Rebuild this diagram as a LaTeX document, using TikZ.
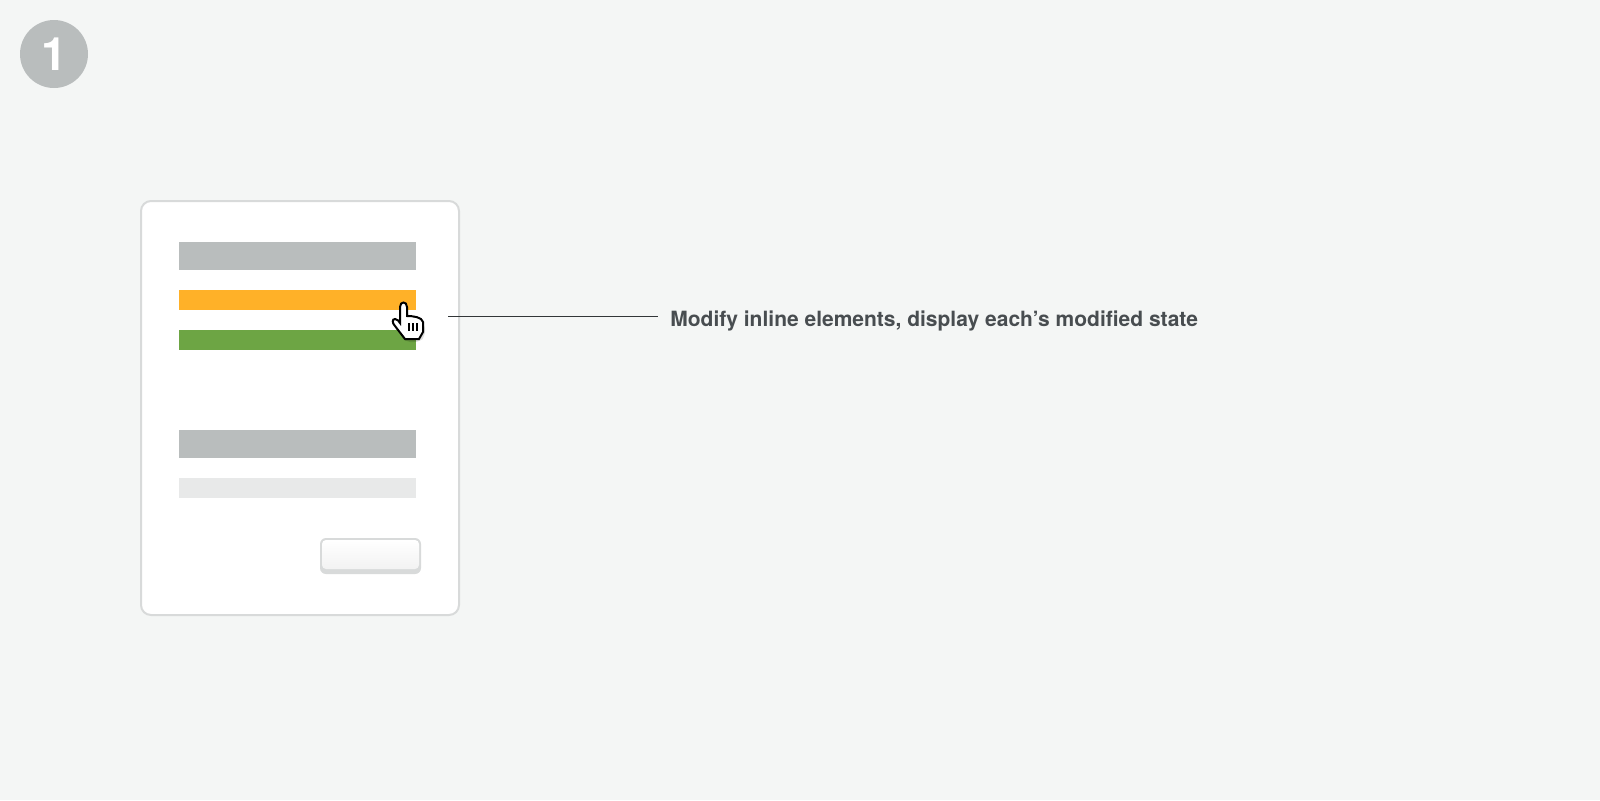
\documentclass[tikz,border=0pt]{standalone}
\usepackage{fontspec}
\setmainfont{TeX Gyre Heros}
\definecolor{pagegray}{HTML}{F4F6F5}
\definecolor{cardline}{HTML}{D8DADA}
\definecolor{bargray}{HTML}{B9BDBD}
\definecolor{barlight}{HTML}{E8E9E9}
\definecolor{barorange}{HTML}{FFB128}
\definecolor{bargreen}{HTML}{6DA544}
\definecolor{textgray}{HTML}{484D50}
\tikzset{
  stepmark/.style={circle,fill=bargray,minimum size=34pt,inner sep=0pt,text=white,font=\bfseries\fontsize{23}{23}\selectfont},
  calltext/.style={anchor=west,inner xsep=6pt,inner ysep=0pt,text height=12pt,text depth=2.5pt,text=textgray,font=\bfseries\fontsize{10.5}{12}\selectfont},
}
\begin{document}
\begin{tikzpicture}[x=0.5pt,y=-0.5pt]
    \fill[pagegray] (0,0) rectangle (1600,800);
    \useasboundingbox (0,0) rectangle (1600,800);
    %% step number
    \node[stepmark] (stepone) at (54,54) {1};
    %% card
    \draw[cardline,fill=white,line width=1pt,rounded corners=5pt] (141,201) rectangle (459,615);
    %% bars
    \fill[bargray] (179,242) rectangle (416,270);
    \fill[barorange] (179,290) rectangle (416,310);
    \fill[bargreen] (179,330) rectangle (416,350);
    \fill[bargray] (179,430) rectangle (416,458);
    \fill[barlight] (179,478) rectangle (416,498);
    %% button
    \fill[cardline,rounded corners=3pt] (320,538) rectangle (421,574);
    \shade[top color=white,bottom color=white!95!black,rounded corners=2pt] (322,540) rectangle (419,569);
    %% hand
    \fill[black,opacity=0.12,rounded corners=2.5pt] (402,310) -- (409,310) -- (409,319) -- (425,323) -- (425,336) -- (420,342) -- (405,342) -- (396,327) -- (395,321) -- (402,325) -- cycle;
    \draw[fill=white,line width=1pt] (400,307) .. controls (400,301) and (407,301) .. (407,307)
        -- (407,316) .. controls (413,316) and (422,317) .. (423,322)
        -- (423,332) -- (419,339) -- (405,339) -- (395,326) .. controls (392,323) and (392,319) .. (395,319)
        .. controls (397,319) and (399,321) .. (400,323) -- cycle;
    \draw[line width=1pt] (409,323) -- (409,331) (413,323) -- (413,331) (417,323) -- (417,331);
    %% callout
    \coordinate (callstart) at (448,316.5);
    \node[calltext] (calllabel) at (658,316.5) {Modify inline elements, display each’s modified state};
    \draw[textgray!70!black,line width=0.8pt] (callstart) -- (calllabel.west);
\end{tikzpicture}
\end{document}
